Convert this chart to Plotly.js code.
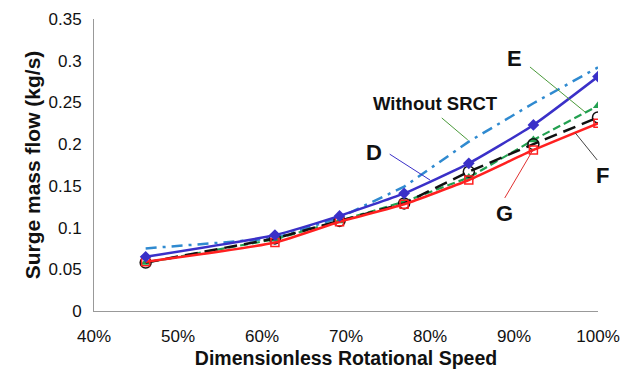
<!DOCTYPE html>
<html>
<head>
<meta charset="utf-8">
<script src="https://cdn.plot.ly/plotly-3.0.1.min.js"></script>
<style>html,body{margin:0;padding:0;background:#fff;}#chart{width:621px;height:369px;}</style>
</head>
<body>
<div id="chart"></div>
<script>
// Dimensionless rotational speed (%)
var speed = [46.15, 61.54, 69.23, 76.92, 84.62, 92.31, 100];
var withoutSRCT = [0.075, 0.087, 0.112, 0.149, 0.203, 0.249, 0.292];
var seriesD = [0.065, 0.091, 0.114, 0.141, 0.177, 0.223, 0.281];
var seriesE = [0.058, 0.086, 0.108, 0.131, 0.160, 0.205, 0.246];
var seriesF = [0.058, 0.087, 0.108, 0.129, 0.167, 0.200, 0.232];
var seriesG = [0.059, 0.082, 0.107, 0.128, 0.157, 0.193, 0.225];
var xTickVals = [40, 50, 60, 70, 80, 90, 100];
var xTickText = ['40%', '50%', '60%', '70%', '80%', '90%', '100%'];
var yTickVals = [0, 0.05, 0.1, 0.15, 0.2, 0.25, 0.3, 0.35];
var yTickText = ['0', '0.05', '0.1', '0.15', '0.2', '0.25', '0.3', '0.35'];

// Callout labels: [text, xref, x, y, size]
var labels = [
  ['Without SRCT', 'x', 80.6, 0.249, 18.5],
  ['D', 'x', 73.3, 0.190, 22],
  ['E', 'x', 90.0, 0.303, 22],
  ['F', 'paper', 1.008, 0.163, 22],
  ['G', 'x', 88.9, 0.117, 22]
];
// Leader lines: [x0, y0, x1, y1, colour]
var leaders = [
  [81.4, 0.2314, 84.5, 0.205, '#4a9a3a'],
  [75.2, 0.188, 80.0, 0.157, '#3a30c8'],
  [91.9, 0.2925, 98.45, 0.2386, '#4a9a3a'],
  [97.3, 0.2134, 99.9, 0.181, '#444444'],
  [88.9, 0.1355, 92.26, 0.193, '#e03030']
];

var traces = [
  {x: speed, y: withoutSRCT, mode: 'lines', name: 'Without SRCT',
   line: {color: '#2f8ad0', width: 2.5, dash: '11px,6px,3px,6px'}},
  {x: speed, y: seriesE, mode: 'lines+markers', name: 'E',
   line: {color: '#22a050', width: 2.2, dash: '8px,4px'},
   marker: {symbol: 'triangle-up', size: 9, color: '#22a050'}},
  {x: speed, y: seriesF, mode: 'lines+markers', name: 'F',
   line: {color: '#111111', width: 2.5, dash: '13px,7px'},
   marker: {symbol: 'circle-open', size: 11, color: '#111111', line: {width: 1.5}}},
  {x: speed, y: seriesG, mode: 'lines+markers', name: 'G',
   line: {color: '#ff2020', width: 2.5, shape: 'spline', smoothing: 0.5},
   marker: {symbol: 'square-open', size: 8, color: '#ff2020', line: {width: 1.5}}},
  {x: speed, y: seriesD, mode: 'lines+markers', name: 'D',
   line: {color: '#3a30c8', width: 2.5, shape: 'spline', smoothing: 0.5},
   marker: {symbol: 'diamond', size: 9, color: '#3a30c8'}}
];

var annotations = labels.map(function (l) {
  return {x: l[2], y: l[3], xref: l[1], yref: 'y', text: '<b>' + l[0] + '</b>', showarrow: false,
    font: {family: 'Liberation Sans, Arial, sans-serif', size: l[4], color: '#111'},
    xanchor: 'center', yanchor: 'middle'};
});
var shapes = leaders.map(function (s) {
  return {type: 'line', xref: 'x', yref: 'y', x0: s[0], y0: s[1], x1: s[2], y1: s[3],
    line: {color: s[4], width: 1}};
});

var layout = {
  width: 621, height: 369,
  margin: {l: 94, r: 23, t: 19, b: 58},
  paper_bgcolor: '#fff', plot_bgcolor: '#fff',
  showlegend: false,
  font: {family: 'Liberation Sans, Arial, sans-serif', color: '#111'},
  xaxis: {
    range: [40, 100], tickvals: xTickVals, ticktext: xTickText,
    showgrid: false, zeroline: false, showline: true, linecolor: '#999', linewidth: 1,
    ticks: 'outside', ticklen: 10, tickcolor: 'rgba(0,0,0,0)', tickfont: {size: 17, color: '#111'},
    title: {text: '<b>Dimensionless Rotational Speed</b>', font: {size: 19.5, color: '#111'}, standoff: 14}
  },
  yaxis: {
    range: [0, 0.35], tickvals: yTickVals, ticktext: yTickText,
    showgrid: false, zeroline: false, showline: true, linecolor: '#999', linewidth: 1,
    ticks: 'outside', ticklen: 8, tickcolor: 'rgba(0,0,0,0)', tickfont: {size: 17, color: '#111'},
    title: {text: '<b>Surge mass flow (kg/s)</b>', font: {size: 21, color: '#111'}, standoff: 2}
  },
  // overlay axes carrying only the small inside tick marks
  xaxis2: {
    overlaying: 'x', matches: 'x', range: [40, 100], tickvals: xTickVals, showticklabels: false,
    showgrid: false, zeroline: false, showline: false,
    ticks: 'inside', ticklen: 5, tickcolor: '#999'
  },
  yaxis2: {
    overlaying: 'y', matches: 'y', range: [0, 0.35], tickvals: yTickVals, showticklabels: false,
    showgrid: false, zeroline: false, showline: false,
    ticks: 'inside', ticklen: 5, tickcolor: '#999'
  },
  annotations: annotations,
  shapes: shapes
};

Plotly.newPlot('chart', traces, layout, {staticPlot: true, displayModeBar: false});
</script>
</body>
</html>
